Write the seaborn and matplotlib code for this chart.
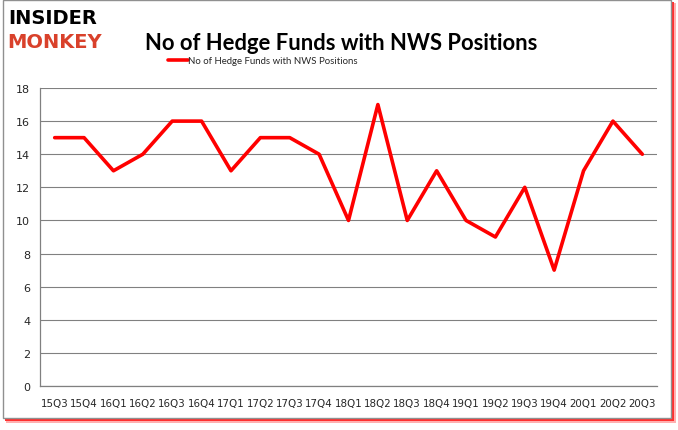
import matplotlib
matplotlib.use("Agg")
import matplotlib.pyplot as plt
import seaborn as sns
import pandas as pd
import numpy as np
from matplotlib.patches import Rectangle

# ---------------------------- DATA ----------------------------
quarters = ['15Q3', '15Q4', '16Q1', '16Q2', '16Q3', '16Q4', '17Q1', '17Q2', '17Q3', '17Q4',
            '18Q1', '18Q2', '18Q3', '18Q4', '19Q1', '19Q2', '19Q3', '19Q4', '20Q1', '20Q2', '20Q3']
hedge_funds = [15, 15, 13, 14, 16, 16, 13, 15, 15, 14, 10, 17, 10, 13, 10, 9, 12, 7, 13, 16, 14]
y_ticks = [0, 2, 4, 6, 8, 10, 12, 14, 16, 18]

series_name = 'No of Hedge Funds with NWS Positions'

df = pd.DataFrame({'pos': range(len(quarters)), 'value': hedge_funds})

# ---------------------------- PLOT ----------------------------
sns.set_style('white')
plt.rcParams['font.family'] = ['DejaVu Sans']

W, H = 678, 431
fig = plt.figure(figsize=(W / 100, H / 100), dpi=100)

# frame with a red drop shadow (bottom / right)
fig.patches.append(Rectangle((6 / W, 1 - 424 / H), 670 / W, 420 / H, transform=fig.transFigure,
                             facecolor='#ffb0b0', edgecolor='none', zorder=-3))
fig.patches.append(Rectangle((5 / W, 1 - 422 / H), 669 / W, 419 / H, transform=fig.transFigure,
                             facecolor='#ff3030', edgecolor='none', zorder=-2))
fig.patches.append(Rectangle((3 / W, 1 - 419 / H), 668 / W, 418 / H, transform=fig.transFigure,
                             facecolor='white', edgecolor='#909090', linewidth=1.0, zorder=-1))

ax = fig.add_axes([40 / W, 1 - 387 / H, 617 / W, 298 / H])
ax.patch.set_alpha(0)

sns.lineplot(data=df, x='pos', y='value', color='#ff0000', linewidth=2.6, ax=ax,
             label=series_name, legend=False)

ax.set_xlim(-0.5, len(quarters) - 0.5)
ax.set_ylim(0, 18)
ax.set_yticks(y_ticks)
ax.set_yticklabels([str(v) for v in y_ticks], fontsize=8)
ax.set_xticks(range(len(quarters)))
ax.set_xticklabels(quarters, fontsize=7.4)
ax.set_xticks(np.arange(-0.5, len(quarters), 1), minor=True)
ax.tick_params(axis='x', which='major', length=0, pad=9)
ax.tick_params(axis='x', which='minor', length=4, color='#808080', direction='out')
ax.tick_params(axis='y', length=4, color='#808080', direction='out', pad=3)
ax.set_xlabel('')
ax.set_ylabel('')

ax.grid(axis='y', color='#808080', linewidth=0.8)
ax.set_axisbelow(True)
for side in ['top', 'right']:
    ax.spines[side].set_visible(False)
for side in ['left', 'bottom']:
    ax.spines[side].set_color('#808080')
    ax.spines[side].set_linewidth(0.9)

# Title
fig.text(341 / W, 1 - 44 / H, series_name, fontsize=15.8, fontweight='bold', ha='center',
         va='center', color='black', family='Lato')

# Legend
fig.legend(handles=ax.get_lines()[:1], labels=[series_name], loc='center',
           bbox_to_anchor=(263 / W, 1 - 62 / H), frameon=False, prop={'family': 'Lato', 'size': 6.9},
           handlelength=2.1, handletextpad=0.0)

# Logo
fig.text(8 / W, 1 - 19 / H, 'INSIDER', fontsize=14, fontweight='bold', color='black',
         ha='left', va='center', family='DejaVu Sans')
fig.text(7 / W, 1 - 42 / H, 'MONKEY', fontsize=14, fontweight='bold', color='#d9412b',
         ha='left', va='center', family='DejaVu Sans')

fig.savefig('out.png', dpi=100)
